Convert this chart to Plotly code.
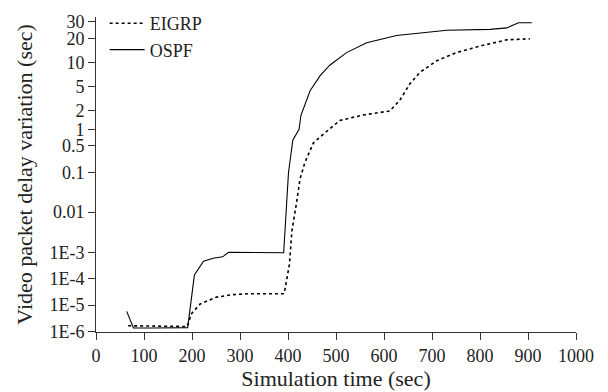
import numpy as np
import plotly.graph_objects as go

# ---- data ----
eigrp_t = [67, 100, 150, 190, 199, 217, 251, 286, 321, 392, 403, 408, 418, 425, 435, 453, 474, 508,
           557, 612, 633, 654, 675, 710, 751, 800, 856, 904]
eigrp_v = [1.7e-6, 1.65e-6, 1.6e-6, 1.6e-6, 4.8e-6, 1.1e-5, 2.0e-5, 2.5e-5, 2.7e-5, 2.7e-5, 3.5e-4,
           3.3e-3, 0.018, 0.069, 0.18, 0.56, 0.82, 1.4, 1.72, 2.0, 2.98, 5.4, 7.55, 10.6, 13.4, 16.2,
           19.4, 20.0]

ospf_t = [64, 78, 120, 191, 205, 224, 244, 264, 276, 330, 391, 401, 410, 423, 427, 446, 467, 487,
          522, 564, 626, 731, 821, 856, 880, 908]
ospf_v = [5.8e-6, 1.4e-6, 1.4e-6, 1.45e-6, 1.4e-4, 4.6e-4, 5.9e-4, 6.7e-4, 1.0e-3, 1.0e-3, 0.95e-3,
          0.1, 0.63, 1.0, 1.7, 4.25, 6.85, 9.3, 13.4, 17.8, 21.6, 24.5, 25.0, 25.9, 29.3, 29.3]

y_tick_vals = [1e-6, 1e-5, 1e-4, 1e-3, 0.01, 0.1, 0.5, 1, 2, 5, 10, 20, 30]
y_tick_text = ["1E-6", "1E-5", "1E-4", "1E-3", "0.01", "0.1", "0.5", "1", "2", "5", "10", "20", "30"]
x_tick_vals = list(range(0, 1001, 100))

# ---- the chart's own non-uniform value scale (tick value -> axis unit) ----
scale_units = [0, 27.4, 54, 81, 121.7, 161.7, 189.4, 205.7, 224.4, 249.4, 273.4, 297.7, 315]


def yscale(v):
    return np.interp(np.log10(np.asarray(v, dtype=float)), np.log10(y_tick_vals), scale_units)


FONT = "Liberation Serif"

fig = go.Figure()
fig.add_trace(go.Scatter(x=eigrp_t, y=yscale(eigrp_v), mode="lines", name="EIGRP",
                         line=dict(color="black", width=1.6, dash="3px,3px")))
fig.add_trace(go.Scatter(x=ospf_t, y=yscale(ospf_v), mode="lines", name="OSPF",
                         line=dict(color="black", width=1.1)))

fig.update_layout(
    width=608, height=392,
    margin=dict(l=96, r=32, t=0, b=60),
    paper_bgcolor="white", plot_bgcolor="white",
    font=dict(family=FONT, size=18, color="#222"),
    showlegend=True,
    legend=dict(x=0.018, y=1.0, xanchor="left", yanchor="top", bgcolor="rgba(0,0,0,0)",
                font=dict(family=FONT, size=18), tracegroupgap=0, itemwidth=35),
    xaxis=dict(range=[0, 1000], tickvals=x_tick_vals, showgrid=False, zeroline=False,
               showline=True, linecolor="#333", linewidth=1, ticks="outside", ticklen=7,
               tickcolor="#333", title=dict(text="Simulation time (sec)", standoff=3),
               tickfont=dict(family=FONT, size=18)),
    yaxis=dict(range=[0, 320], domain=[0, 320 / 332], tickvals=list(yscale(y_tick_vals)),
               ticktext=y_tick_text,
               showgrid=False, zeroline=False, showline=True, linecolor="#333", linewidth=1,
               ticks="outside", ticklen=7, tickcolor="#333",
               title=dict(text="Video packet delay variation (sec)", standoff=10),
               tickfont=dict(family=FONT, size=18)),
)

fig.write_html("out.html")
